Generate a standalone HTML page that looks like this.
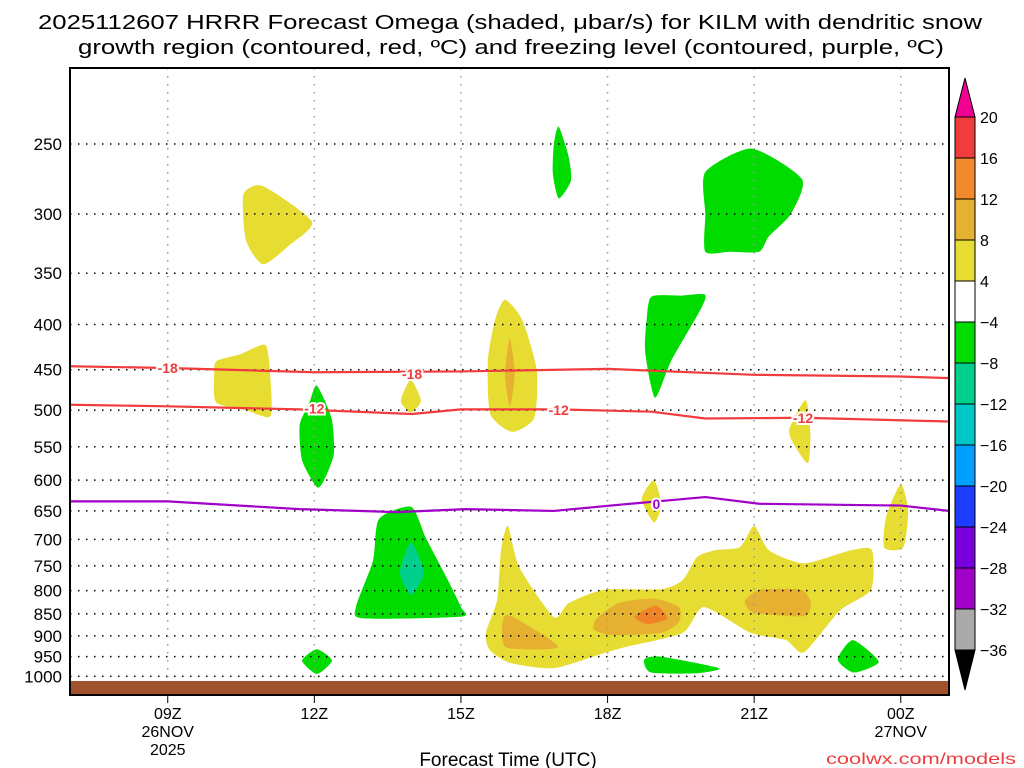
<!DOCTYPE html>
<html><head><meta charset="utf-8"><style>
html,body{margin:0;padding:0;background:#fff;}
svg{display:block;font-family:"Liberation Sans",sans-serif;}
</style></head><body>
<svg id="chart" width="1024" height="768" viewBox="0 0 1024 768" xmlns="http://www.w3.org/2000/svg">
<text x="510" y="29" font-size="20" text-anchor="middle" textLength="944" lengthAdjust="spacingAndGlyphs">2025112607 HRRR Forecast Omega (shaded, μbar/s) for KILM with dendritic snow</text>
<text x="511" y="54" font-size="20" text-anchor="middle" textLength="866" lengthAdjust="spacingAndGlyphs">growth region (contoured, red, ºC) and freezing level (contoured, purple, ºC)</text>
<defs><clipPath id="pc"><rect x="70" y="68" width="879" height="627"/></clipPath></defs>
<g id="plot" clip-path="url(#pc)"></g>
<g id="over"></g>
<rect x="70" y="68" width="879" height="627" fill="none" stroke="#000" stroke-width="2"/>
<text x="508" y="766" font-size="19" text-anchor="middle">Forecast Time (UTC)</text>
<text x="1016" y="764" font-size="16" fill="#f03c3c" text-anchor="end" textLength="190" lengthAdjust="spacingAndGlyphs">coolwx.com/models</text>
</svg>
<script>
const hourTicks=[9,12,15,18,21,24];
const hourLabels=[["09Z","26NOV","2025"],["12Z"],["15Z"],["18Z"],["21Z"],["00Z","27NOV"]];
const pressureTicks=[250,300,350,400,450,500,550,600,650,700,750,800,850,900,950,1000];
const cbarLevels=["20","16","12","8","4","-4","-8","-12","-16","-20","-24","-28","-32","-36"];
const cbarColors=["#f03c3c","#f08a2c","#e6b030","#e6dc32","#ffffff","#00dc00","#00d08c","#00c8c8","#00a0ff","#1e3cff","#7800dc","#a000c8","#aaaaaa"];
const shadeColors={yellow:"#e6dc32",dark:"#e6b030",orange:"#f08228",green:"#00dc00",teal:"#00d08c"};
const shapeKinds=["yellow","green","green","green","yellow","green","yellow","yellow","dark","yellow","yellow","yellow","green","teal","yellow","dark","dark","orange","dark","green","green","green"];
const shapePoints=[
[[10.55,285],[10.95,279],[11.95,306],[11.5,325],[10.95,342],[10.6,321]],
[[17.0,239],[17.2,258],[17.25,275],[17.0,288],[16.88,270],[16.9,250]],
[[20.0,269],[20.95,253],[21.98,274],[21.75,300],[21.3,318],[21.1,331],[20.5,331],[20.0,331],[20.0,300]],
[[18.9,372],[19.5,371],[19.99,370],[19.9,385],[19.3,440],[18.97,484],[18.77,430],[18.8,395]],
[[10.0,440],[10.5,432],[11.0,422],[11.1,460],[11.1,508],[10.6,500],[9.99,490],[9.95,455]],
[[12.05,469],[12.35,510],[12.4,560],[12.2,600],[12.05,611],[11.75,570],[11.7,520],[11.9,490]],
[[13.97,462],[14.18,488],[13.97,503],[13.77,488]],
[[15.9,375],[16.25,395],[16.55,450],[16.5,510],[16.05,529],[15.6,505],[15.55,440],[15.7,395]],
[[16.0,415],[16.1,455],[16.0,495],[15.9,455]],
[[22.05,487],[22.15,530],[22.1,574],[21.8,545],[21.72,525]],
[[18.95,600],[19.1,640],[18.95,670],[18.7,630]],
[[24.0,606],[24.15,650],[24.05,715],[23.66,715],[23.7,660]],
[[13.98,643],[14.28,697],[14.71,774],[15.0,835],[15.0,856],[13.0,860],[12.85,835],[13.2,740],[13.32,664]],
[[13.98,706],[14.24,763],[13.98,809],[13.75,763]],
[[15.96,676],[16.19,752],[16.9,857],[17.21,826],[17.93,798],[19.09,797],[19.54,778],[19.83,733],[20.2,720],[20.71,714],[21.0,676],[21.3,720],[22.02,745],[22.98,720],[23.41,720],[23.39,798],[22.76,842],[22.02,939],[21.65,910],[20.93,893],[19.97,835],[19.54,893],[18.38,926],[17.93,941],[16.9,979],[16.02,966],[15.59,934],[15.51,893],[15.74,820],[15.82,720]],
[[15.96,852],[16.99,926],[15.96,929],[15.84,893]],
[[17.78,860],[18.23,826],[18.95,817],[19.46,835],[19.46,868],[19.09,893],[18.07,898],[17.72,885]],
[[18.56,855],[18.99,832],[19.22,860],[18.81,873]],
[[20.85,816],[21.12,798],[21.96,798],[22.16,826],[22.02,855],[21.0,847],[20.81,826]],
[[18.75,957],[19.09,950],[20.28,979],[19.83,992],[18.89,990]],
[[23.02,910],[23.55,963],[23.04,990],[22.71,957]],
[[12.05,932],[12.36,960],[12.05,994],[11.75,960]]
];
const m18Hours=[7,9,12,15,18,21,24,25];
const m18Press=[446,448,453,452,449,456,458,460];
const m12Hours=[7,9,11.7,14,15,17,18.9,20,22,25];
const m12Press=[493,495,499,505,499,499,502,511,510,515];
const zeroHours=[7,9,11.7,13.7,15.1,16.9,18.2,20,21.1,24,25];
const zeroPress=[634,634,647,652,647,650,640,627,638,641,650];
const labelHours=[9,14,12,17,22,19];
const labelPress=[448,455,498,500,510,638];
const labelText=["-18","-18","-12","-12","-12","0"];
const labelColor=["#f03c3c","#f03c3c","#f03c3c","#f03c3c","#f03c3c","#a000c8"];

const NS="http://www.w3.org/2000/svg";
const X=h=>70+(h-7)*48.87;
const Y=p=>144+384*Math.log(p/250);
const plot=document.getElementById('plot'),over=document.getElementById('over');
function mk(tag,attrs,parent){const e=document.createElementNS(NS,tag);for(const k in attrs)e.setAttribute(k,attrs[k]);parent.appendChild(e);return e;}
function smooth(pts){const n=pts.length,k=9;let d=`M${pts[0][0]},${pts[0][1]}`;
for(let i=0;i<n;i++){const p0=pts[(i-1+n)%n],p1=pts[i],p2=pts[(i+1)%n],p3=pts[(i+2)%n];
const c1=[p1[0]+(p2[0]-p0[0])/k,p1[1]+(p2[1]-p0[1])/k],c2=[p2[0]-(p3[0]-p1[0])/k,p2[1]-(p3[1]-p1[1])/k];
d+=`C${c1[0]},${c1[1]} ${c2[0]},${c2[1]} ${p2[0]},${p2[1]}`;}return d+"Z";}
shapePoints.forEach((s,i)=>{const pts=s.map(q=>[X(q[0]),Y(q[1])]);
const e=mk('path',{d:smooth(pts),fill:shadeColors[shapeKinds[i]]},plot);

});
pressureTicks.forEach(p=>{const e=mk('line',{x1:70,x2:949,y1:Y(p),y2:Y(p),stroke:'#000','stroke-width':1.5,'stroke-dasharray':'1.5 6.5'},plot);

});
hourTicks.forEach(h=>{const e=mk('line',{x1:X(h),x2:X(h),y1:68,y2:695,stroke:'#999','stroke-width':1.5,'stroke-dasharray':'1.5 6.5'},plot);

});
const g=mk('rect',{x:70,y:681,width:879,height:14,fill:'#a0522d'},plot);


function line(hs,ps,color,name){const d=hs.map((h,i)=>(i?'L':'M')+X(h)+','+Y(ps[i])).join('');
const e=mk('path',{d:d,fill:'none',stroke:color,'stroke-width':2.2,'stroke-linejoin':'round'},plot);

}
line(m18Hours,m18Press,'#f03c3c','contour-minus-18');
line(m12Hours,m12Press,'#f03c3c','contour-minus-12');
line(zeroHours,zeroPress,'#a000c8','freezing-level-0');
labelText.forEach((t,i)=>{const x=X(labelHours[i]),y=Y(labelPress[i]);
const t2=mk('text',{x:x,y:y+5,'font-size':14,'font-weight':'bold',fill:labelColor[i],'text-anchor':'middle',stroke:'#fff','stroke-width':4,'paint-order':'stroke'},plot);
t2.textContent=t;

});
pressureTicks.forEach(p=>{const e=mk('text',{x:62,y:Y(p)+6,'font-size':17,'text-anchor':'end'},over);e.textContent=p;

});
hourTicks.forEach((h,i)=>{const t=mk('line',{x1:X(h),x2:X(h),y1:695,y2:703,stroke:'#000','stroke-width':1},over);


hourLabels[i].forEach((s,j)=>{const e=mk('text',{x:X(h),y:719+j*18,'font-size':16,'text-anchor':'middle'},over);e.textContent=s;

});});
const cbTop=117,cbH=41,cbX=955,cbW=20;
cbarColors.forEach((c,i)=>{const e=mk('rect',{x:cbX,y:cbTop+i*cbH,width:cbW,height:cbH,fill:c,stroke:'#000','stroke-width':1},over);

});
const up=mk('polygon',{points:`${cbX},${cbTop} ${cbX+cbW},${cbTop} ${cbX+cbW/2},78`,fill:'#f00090',stroke:'#000'},over);


const bot=cbTop+cbarColors.length*cbH;
const dn=mk('polygon',{points:`${cbX},${bot} ${cbX+cbW},${bot} ${cbX+cbW/2},690`,fill:'#000',stroke:'#000'},over);


cbarLevels.forEach((s,i)=>{const e=mk('text',{x:980,y:cbTop+i*cbH+6,'font-size':16},over);e.textContent=s.replace('-','−');

});
</script>
</body></html>
